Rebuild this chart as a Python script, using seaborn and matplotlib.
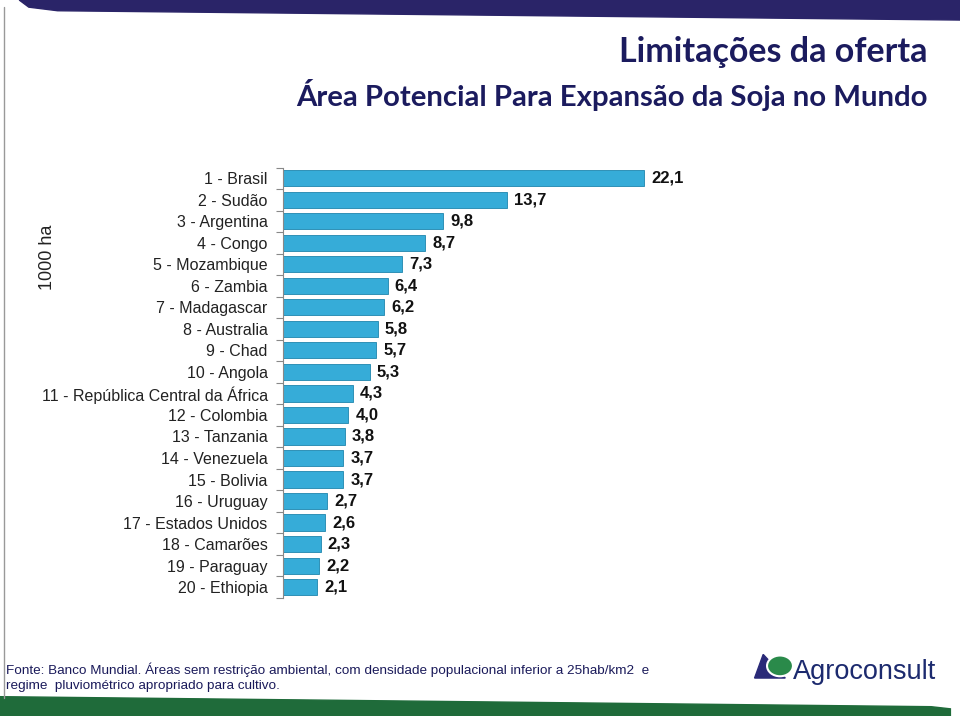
import seaborn as sns
import matplotlib.pyplot as plt
import pandas as pd
import numpy as np
from matplotlib.patches import Polygon, Ellipse

paises = ['1 - Brasil', '2 - Sudão', '3 - Argentina', '4 - Congo', '5 - Mozambique',
          '6 - Zambia', '7 - Madagascar', '8 - Australia', '9 - Chad', '10 - Angola',
          '11 - República Central da África', '12 - Colombia', '13 - Tanzania',
          '14 - Venezuela', '15 - Bolivia', '16 - Uruguay', '17 - Estados Unidos',
          '18 - Camarões', '19 - Paraguay', '20 - Ethiopia']
area = [22.1, 13.7, 9.8, 8.7, 7.3, 6.4, 6.2, 5.8, 5.7, 5.3,
        4.3, 4.0, 3.8, 3.7, 3.7, 2.7, 2.6, 2.3, 2.2, 2.1]

df = pd.DataFrame({'pais': paises, 'area': area})

sns.set_style('white')
plt.rcParams['font.family'] = ['Liberation Sans', 'DejaVu Sans']

fig = plt.figure(figsize=(9.6, 7.16), dpi=100)

# slide decoration: top navy band, bottom green band, left border
fig.add_artist(Polygon([(0.02, 1.0), (1.0, 1.0), (1.0, 0.972), (0.06, 0.985), (0.03, 0.99)],
                       closed=True, transform=fig.transFigure, color='#2a2468', zorder=0))
fig.add_artist(Polygon([(0.0, 0.0), (0.99, 0.0), (0.99, 0.01), (0.97, 0.013), (0.0, 0.027)],
                       closed=True, transform=fig.transFigure, color='#1f6b3a', zorder=0))
fig.add_artist(plt.Line2D([0.004, 0.004], [0.025, 0.99], transform=fig.transFigure,
                          color='#999999', lw=1))

fig.text(0.966, 0.928, 'Limitações da oferta', ha='right', va='center', fontsize=24.5,
         fontweight='bold', color='#1b1b5e', family=['Lato', 'DejaVu Sans'])
fig.text(0.966, 0.868, 'Área Potencial Para Expansão da Soja no Mundo', ha='right', va='center',
         fontsize=21.2, fontweight='bold', color='#1b1b5e', family=['Lato', 'DejaVu Sans'])

ax = fig.add_axes([0.2948, 0.165, 0.65, 0.601])
sns.barplot(data=df, x='area', y='pais', color='#36acd8', saturation=1, width=0.75,
            edgecolor='#1e86ad', linewidth=0.6, ax=ax)

for i, v in enumerate(area):
    ax.annotate(f'{v:.1f}'.replace('.', ','), (v, i), xytext=(5, 0), textcoords='offset points',
                va='center', ha='left', fontsize=12, fontweight='bold', color='#111111')

ax.set_xlim(0, 38.2)
ax.set_ylim(19.5, -0.5)
ax.set_xlabel('')
ax.set_ylabel('')
ax.set_xticks([])
sns.despine(ax=ax, top=True, right=True, bottom=True)
ax.spines['left'].set_color('#888888')
ax.set_yticks(np.arange(-0.5, 20, 1), minor=True)
ax.tick_params(axis='y', which='minor', length=5, color='#888888', width=0.8, left=True)
ax.tick_params(axis='y', which='major', length=0, pad=11, labelsize=11.5, labelcolor='#222222')

fig.text(0.05, 0.64, '1000 ha', rotation=90, ha='center', va='center', fontsize=13, color='#222222')

fig.text(0.006, 0.065, 'Fonte: Banco Mundial. Áreas sem restrição ambiental, com densidade '
         'populacional inferior a 25hab/km2  e', fontsize=9.7, color='#1a1a5a', va='center')
fig.text(0.006, 0.042, 'regime  pluviométrico apropriado para cultivo.', fontsize=9.7,
         color='#1a1a5a', va='center')

# logo
fig.add_artist(Polygon([(0.786, 0.053), (0.795, 0.086), (0.818, 0.053)], closed=True,
                       transform=fig.transFigure, color='#2a2a78'))
fig.add_artist(Ellipse((0.8125, 0.070), 0.027, 0.029, transform=fig.transFigure,
                       facecolor='#2a8a4a', edgecolor='white', lw=1.5))
fig.text(0.826, 0.061, 'Agroconsult', fontsize=19.5, color='#1c2a6e', va='center', ha='left')

plt.savefig('out.png', dpi=100)
